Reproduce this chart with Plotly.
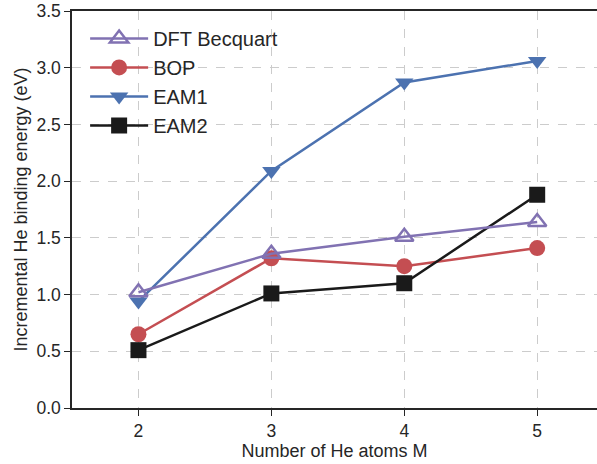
import plotly.graph_objects as go

m_atoms = [2, 3, 4, 5]
dft_becquart = [1.02, 1.36, 1.51, 1.64]
bop = [0.65, 1.32, 1.25, 1.41]
eam1 = [0.94, 2.09, 2.87, 3.06]
eam2 = [0.51, 1.01, 1.10, 1.88]

x_ticks = [2, 3, 4, 5]
y_ticks = [0.0, 0.5, 1.0, 1.5, 2.0, 2.5, 3.0, 3.5]

FONT = "Liberation Sans, Arial, sans-serif"
TXT = "#262626"

fig = go.Figure()

series = [
    ("BOP", bop, "#C44E52", "circle", 2),
    ("EAM1", eam1, "#4C72B0", "triangle-down", 3),
    ("EAM2", eam2, "#1A1A1A", "square", 4),
    ("DFT Becquart", dft_becquart, "#8172B2", "triangle-up-open", 1),
]
for name, vals, col, sym, rank in series:
    fig.add_trace(go.Scatter(
        x=m_atoms, y=vals, name=name, mode="lines+markers",
        line=dict(color=col, width=2.5),
        marker=dict(symbol=sym, size=16, color=col,
                    line=dict(color=col, width=2.5 if "open" in sym else 0)),
        legendrank=rank,
    ))

fig.update_layout(
    width=597, height=464,
    margin=dict(l=72, r=0, t=11, b=56),
    paper_bgcolor="white", plot_bgcolor="white",
    font=dict(family=FONT, color=TXT, size=17),
    showlegend=True,
    legend=dict(x=0.025, y=0.98, xanchor="left", yanchor="top",
                font=dict(size=20, color=TXT), bgcolor="rgba(0,0,0,0)",
                itemwidth=58, tracegroupgap=0),
    xaxis=dict(
        range=[1.5, 5.45], tickvals=x_ticks, ticks="outside", ticklen=6,
        tickwidth=1.3, tickcolor=TXT, tickfont=dict(size=17.5),
        showline=True, linecolor=TXT, linewidth=1.5, mirror=False,
        showgrid=True, gridcolor="#cccccc", griddash="dash", gridwidth=1,
        zeroline=False,
        title=dict(text="Number of He atoms M", font=dict(size=18), standoff=4),
    ),
    xaxis2=dict(overlaying="x", side="top", showline=True, linecolor=TXT,
                linewidth=1.5, showticklabels=False, ticks="", showgrid=False,
                zeroline=False, range=[1.5, 5.45]),
    yaxis=dict(
        range=[0, 3.5], tickvals=y_ticks, tickformat=".1f", ticks="outside",
        ticklen=6, tickwidth=1.3, tickcolor=TXT, tickfont=dict(size=17.5),
        showline=True, linecolor=TXT, linewidth=1.5,
        showgrid=True, gridcolor="#cccccc", griddash="dash", gridwidth=1,
        zeroline=False,
        title=dict(text="Incremental He binding energy (eV)", font=dict(size=18), standoff=4),
    ),
)
fig.add_trace(go.Scatter(x=[None], y=[None], xaxis="x2", showlegend=False, hoverinfo="skip"))

fig.write_html("out.html")
